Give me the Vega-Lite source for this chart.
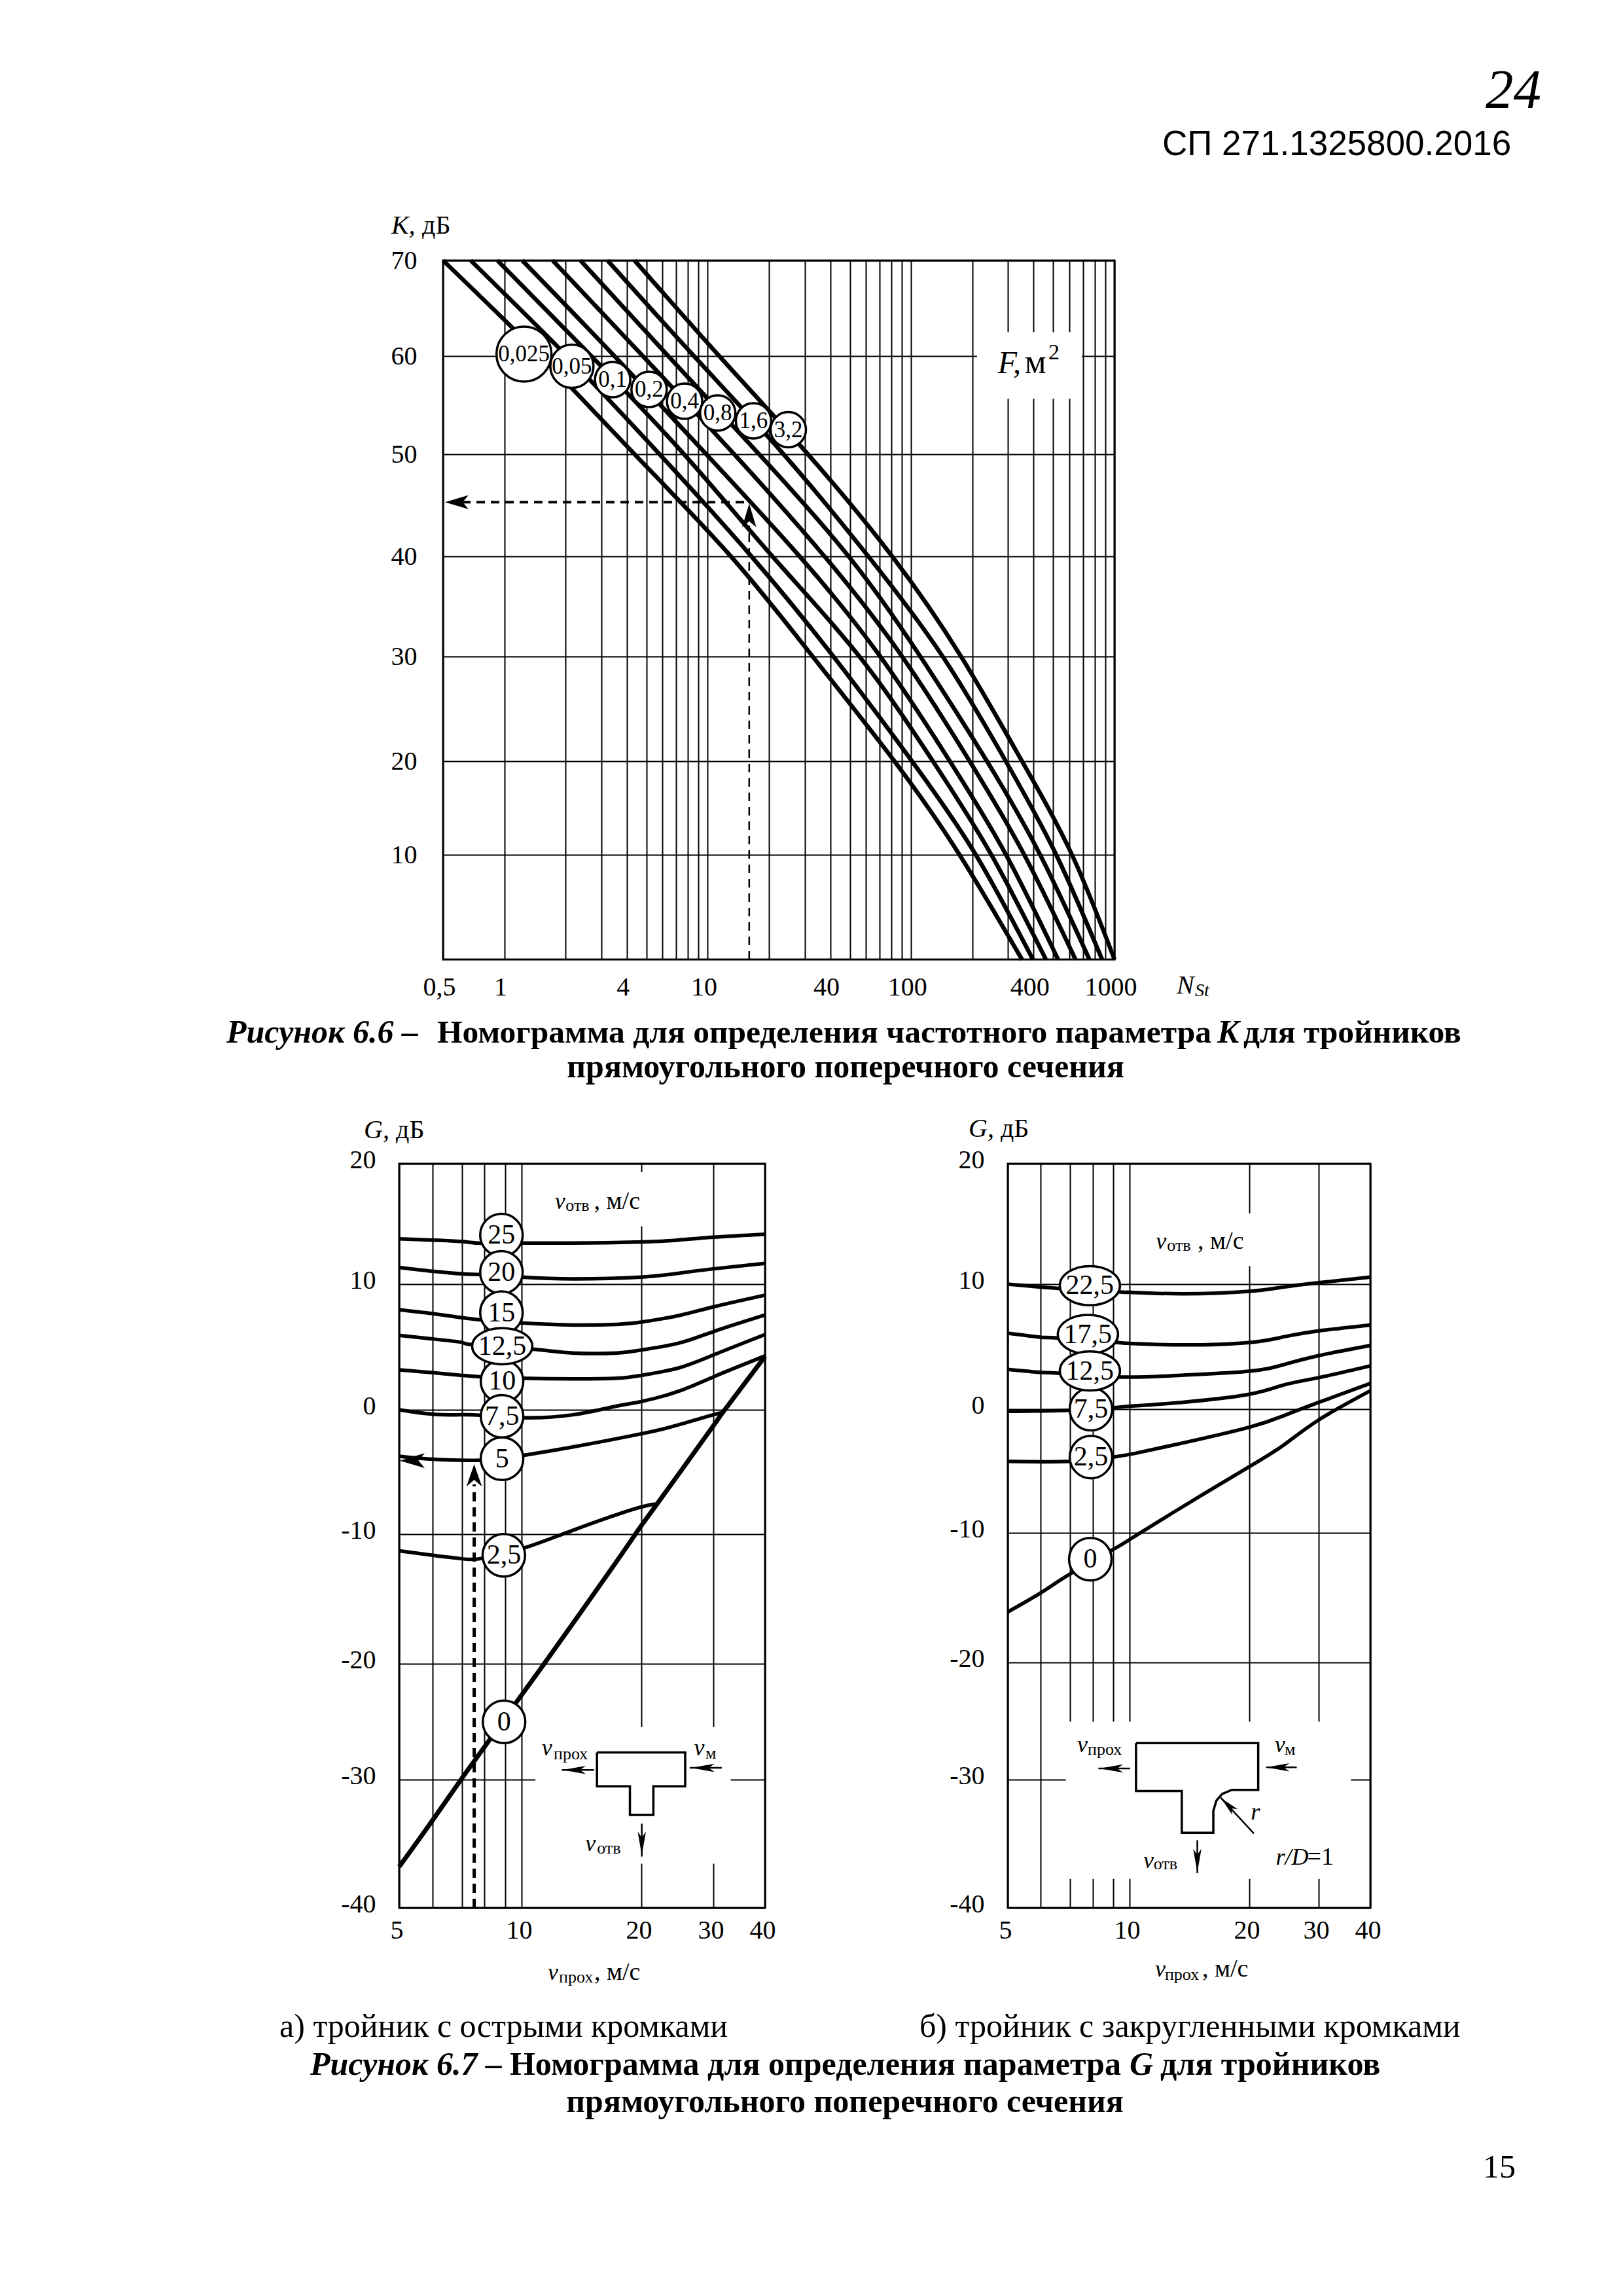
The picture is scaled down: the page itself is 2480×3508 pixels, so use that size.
{
"$schema":"https://vega.github.io/schema/vega-lite/v6.json",
"background":"white","padding":0,"spacing":0,
"config":{"view":{"stroke":null},"font":"Liberation Serif","text":{"font":"Liberation Serif","align":"left","baseline":"alphabetic","color":"black"},
"axis":{"domain":false,"ticks":false,"grid":true,"gridColor":"black","gridWidth":2,"gridOpacity":1,"labelColor":"black","labelFont":"Liberation Serif","labelFontSize":40,"labelOverlap":false,"labelBound":false,"labelFlush":false,"labelPadding":22,"title":null}},
"vconcat":[
{"width":2480,"height":376,
 "encoding":{"x":{"field":"x","type":"quantitative","axis":null,"scale":{"domain":[0,100]}},"y":{"field":"y","type":"quantitative","axis":null,"scale":{"domain":[0,10.718],"reverse":true}},"text":{"field":"label"}},
 "layer":[
 {"data":{"values":[{"x":71.61,"y":6.76,"label":"СП 271.1325800.2016"}]},"mark":{"type":"text","font":"Liberation Sans","fontSize":53}},
 {"data":{"values":[{"x":91.53,"y":4.7,"label":"24"}]},"mark":{"type":"text","fontStyle":"italic","fontSize":85}},
 {"data":{"values":[{"x":24.11,"y":10.18,"label":"K,"}]},"mark":{"type":"text","fontStyle":"italic","fontSize":40}},
 {"data":{"values":[{"x":26.01,"y":10.18,"label":"дБ"}]},"mark":{"type":"text","fontSize":40}}
 ]},
{"spacing":0,"bounds":"flush","hconcat":[
 {"width":677,"height":1138,"data":{"values":[{"a":1}]},"mark":{"type":"point","opacity":0},"encoding":{}},
 {"width":1026,"height":1068,"view":{"stroke":"black","strokeWidth":3},
 "encoding":{"x":{"field":"x","type":"quantitative","scale":{"type":"log","domain":[0.5,1000],"nice":false},"axis":{"values":[0.5,1,2,3,4,5,6,7,8,9,10,20,30,40,50,60,70,80,90,100,200,300,400,500,600,700,800,900,1000],"labelOffset":-6,"labelExpr":"indexof([0.5,1,4,10,40,100,400,1000],datum.value)>=0 ? replace(''+datum.value,'.',',') : ''"}},
 "y":{"field":"y","type":"quantitative","scale":{"domain":[0,10,20,30,40,50,60,70],"range":[1068,908,765,605,452,296,146,0]},"axis":{"values":[10,20,30,40,50,60,70],"labelPadding":40}}},
 "layer":[
 {"data":{"values":[{"x":211,"x2":690,"y":62.5,"y2":55.65}]},"mark":{"type":"rect","fill":"white"},"encoding":{"x2":{"field":"x2"},"y2":{"field":"y2"}}},
 {"data":{"values":[
 {"f":"0,025","x":0.5,"y":70},{"f":"0,025","x":1.51,"y":60},{"f":"0,025","x":4.37,"y":50},{"f":"0,025","x":13,"y":40},{"f":"0,025","x":32.8,"y":30},{"f":"0,025","x":82.8,"y":20},{"f":"0,025","x":173,"y":10},{"f":"0,025","x":351,"y":0},
 {"f":"0,05","x":0.684,"y":70},{"f":"0,05","x":2.03,"y":60},{"f":"0,05","x":5.8,"y":50},{"f":"0,05","x":16.4,"y":40},{"f":"0,05","x":41.5,"y":30},{"f":"0,05","x":101,"y":20},{"f":"0,05","x":208,"y":10},{"f":"0,05","x":397,"y":0},
 {"f":"0,1","x":0.926,"y":70},{"f":"0,1","x":2.68,"y":60},{"f":"0,1","x":7.65,"y":50},{"f":"0,1","x":20.8,"y":40},{"f":"0,1","x":55.7,"y":30},{"f":"0,1","x":128,"y":20},{"f":"0,1","x":248,"y":10},{"f":"0,1","x":460,"y":0},
 {"f":"0,2","x":1.227,"y":70},{"f":"0,2","x":3.48,"y":60},{"f":"0,2","x":9.84,"y":50},{"f":"0,2","x":28.3,"y":40},{"f":"0,2","x":70.5,"y":30},{"f":"0,2","x":155,"y":20},{"f":"0,2","x":293,"y":10},{"f":"0,2","x":528,"y":0},
 {"f":"0,4","x":1.73,"y":70},{"f":"0,4","x":4.8,"y":60},{"f":"0,4","x":13.5,"y":50},{"f":"0,4","x":37.5,"y":40},{"f":"0,4","x":90.3,"y":30},{"f":"0,4","x":194,"y":20},{"f":"0,4","x":360,"y":10},{"f":"0,4","x":643,"y":0},
 {"f":"0,8","x":2.37,"y":70},{"f":"0,8","x":6.4,"y":60},{"f":"0,8","x":17.9,"y":50},{"f":"0,8","x":49.3,"y":40},{"f":"0,8","x":111,"y":30},{"f":"0,8","x":236,"y":20},{"f":"0,8","x":431,"y":10},{"f":"0,8","x":753,"y":0},
 {"f":"1,6","x":3.22,"y":70},{"f":"1,6","x":8.56,"y":60},{"f":"1,6","x":23.6,"y":50},{"f":"1,6","x":61.6,"y":40},{"f":"1,6","x":143,"y":30},{"f":"1,6","x":292,"y":20},{"f":"1,6","x":517,"y":10},{"f":"1,6","x":869,"y":0},
 {"f":"3,2","x":4.37,"y":70},{"f":"3,2","x":11.4,"y":60},{"f":"3,2","x":31.1,"y":50},{"f":"3,2","x":80.7,"y":40},{"f":"3,2","x":176,"y":30},{"f":"3,2","x":351,"y":20},{"f":"3,2","x":618,"y":10},{"f":"3,2","x":1000,"y":0}
 ]},"mark":{"type":"line","color":"black","strokeWidth":6.5,"interpolate":"natural"},"encoding":{"detail":{"field":"f"}}},
 {"data":{"values":[{"x":0.62,"x2":16,"y":45.3,"y2":45.3}]},"mark":{"type":"rule","color":"black","strokeWidth":4,"strokeDash":[13,9]},"encoding":{"x2":{"field":"x2"},"y2":{"field":"y2"}}},
 {"data":{"values":[{"x":16,"x2":16,"y":0,"y2":43}]},"mark":{"type":"rule","color":"black","strokeWidth":2.5,"strokeDash":[13,9]},"encoding":{"x2":{"field":"x2"},"y2":{"field":"y2"}}},
 {"data":{"values":[{"x":0.584,"y":45.3}]},"mark":{"type":"point","filled":true,"color":"black","opacity":1,"size":1296,"shape":"M-1,0L1,-0.6L0.5,0L1,0.6Z"}},
 {"data":{"values":[{"x":16,"y":44}]},"mark":{"type":"point","filled":true,"color":"black","opacity":1,"size":1296,"shape":"M0,-1L-0.6,1L0,0.5L0.6,1Z"}},
 {"data":{"values":[{"x":1.25,"y":60.2}]},"mark":{"type":"point","filled":true,"fill":"white","stroke":"black","strokeWidth":3.5,"opacity":1,"size":7056,"shape":"circle"}},
 {"data":{"values":[{"x":2.15,"y":58.96}]},"mark":{"type":"point","filled":true,"fill":"white","stroke":"black","strokeWidth":3.5,"opacity":1,"size":4356,"shape":"circle"}},
 {"data":{"values":[{"x":3.41,"y":57.6},{"x":5.15,"y":56.6},{"x":7.7,"y":55.4},{"x":11.2,"y":54.2},{"x":16.8,"y":53.4},{"x":24.9,"y":52.5}]},"mark":{"type":"point","filled":true,"fill":"white","stroke":"black","strokeWidth":3.5,"opacity":1,"size":2916,"shape":"circle"}},
 {"data":{"values":[{"x":1.25,"y":60.2,"label":"0,025"},{"x":2.15,"y":58.96,"label":"0,05"},{"x":3.41,"y":57.6,"label":"0,1"},{"x":5.15,"y":56.6,"label":"0,2"},{"x":7.7,"y":55.4,"label":"0,4"},{"x":11.2,"y":54.2,"label":"0,8"},{"x":16.8,"y":53.4,"label":"1,6"},{"x":24.9,"y":52.5,"label":"3,2"}]},"mark":{"type":"text","align":"center","baseline":"middle","fontSize":35},"encoding":{"text":{"field":"label"}}},
 {"data":{"values":[{"x":267,"y":58.27,"label":"F,"}]},"mark":{"type":"text","fontStyle":"italic","fontSize":48},"encoding":{"text":{"field":"label"}}},
 {"data":{"values":[{"x":362,"y":58.27,"label":"м"}]},"mark":{"type":"text","fontSize":52},"encoding":{"text":{"field":"label"}}},
 {"data":{"values":[{"x":473,"y":59.67,"label":"2"}]},"mark":{"type":"text","fontSize":34},"encoding":{"text":{"field":"label"}}}
 ]},
 {"width":300,"height":1138,
 "encoding":{"x":{"field":"x","type":"quantitative","axis":null,"scale":{"domain":[68.67,80.77]}},"y":{"field":"y","type":"quantitative","axis":null,"scale":{"domain":[11.345,43.785],"reverse":true}},"text":{"field":"label"}},
 "layer":[
 {"data":{"values":[{"x":72.5,"y":43.27,"label":"N"}]},"mark":{"type":"text","fontStyle":"italic","fontSize":40}},
 {"data":{"values":[{"x":73.63,"y":43.39,"label":"St"}]},"mark":{"type":"text","fontStyle":"italic","fontSize":28}}
 ]}
]},
{"width":2480,"height":214,
 "encoding":{"x":{"field":"x","type":"quantitative","axis":null,"scale":{"domain":[0,100]}},"y":{"field":"y","type":"quantitative","axis":null,"scale":{"domain":[43.757,49.857],"reverse":true}},"text":{"field":"label"}},
 "layer":[
 {"data":{"values":[{"x":22.42,"y":49.54,"label":"G,"},{"x":59.68,"y":49.49,"label":"G,"}]},"mark":{"type":"text","fontStyle":"italic","fontSize":40}},
 {"data":{"values":[{"x":24.4,"y":49.54,"label":"дБ"},{"x":61.65,"y":49.49,"label":"дБ"}]},"mark":{"type":"text","fontSize":40}},
 {"data":{"values":[{"x":13.95,"y":45.38,"label":"Рисунок 6.6 –"},{"x":75,"y":45.38,"label":"K"}]},"mark":{"type":"text","fontStyle":"italic","fontWeight":"bold","fontSize":50}},
 {"data":{"values":[{"x":26.94,"y":45.38,"label":"Номограмма для определения частотного параметра"},{"x":76.61,"y":45.38,"label":"для тройников"}]},"mark":{"type":"text","fontWeight":"bold","fontSize":49.5}},
 {"data":{"values":[{"x":52.1,"y":46.89,"label":"прямоугольного поперечного сечения"}]},"mark":{"type":"text","align":"center","fontWeight":"bold","fontSize":50}}
 ]},
{"spacing":0,"bounds":"flush","hconcat":[
 {"width":610,"height":1207,"data":{"values":[{"a":1}]},"mark":{"type":"point","opacity":0},"encoding":{}},
 {"width":559,"height":1137,"view":{"stroke":"black","strokeWidth":3},
 "encoding":{"x":{"field":"x","type":"quantitative","scale":{"type":"log","domain":[5,6,7,8,9,10,20,30,40],"range":[0,51,96,130,162,187,370,480,559],"nice":false},"axis":{"values":[5,6,7,8,9,10,20,30,40],"labelOffset":-4,"labelPadding":14,"labelExpr":"indexof([5,10,20,30,40],datum.value)>=0 ? ''+datum.value : ''"}},
 "y":{"field":"y","type":"quantitative","scale":{"domain":[-40,-30,-20,-10,0,10,20],"range":[1137,941,764,566,376,184,0]},"axis":{"values":[-40,-30,-20,-10,0,10,20],"labelExpr":"''+datum.value","labelPadding":36,"labelOffset":-6}}},
 "layer":[
 {"data":{"values":[{"x":19.5,"x2":20.43,"y":19.3,"y2":14.8},{"x":10.83,"x2":33.06,"y":-25.47,"y2":-36.56}]},"mark":{"type":"rect","fill":"white"},"encoding":{"x2":{"field":"x2"},"y2":{"field":"y2"}}},
 {"data":{"values":[
 {"v":"25","x":5,"y":13.76},{"v":"25","x":6,"y":13.66},{"v":"25","x":7,"y":13.54},{"v":"25","x":7.9,"y":13.39},{"v":"25","x":10,"y":13.41},{"v":"25","x":13.46,"y":13.41},{"v":"25","x":20,"y":13.51},{"v":"25","x":24.6,"y":13.66},{"v":"25","x":30,"y":13.9},{"v":"25","x":40,"y":14.15},
 {"v":"20","x":5,"y":11.39},{"v":"20","x":6,"y":11.07},{"v":"20","x":7,"y":10.85},{"v":"20","x":7.9,"y":10.78},{"v":"20","x":10,"y":10.59},{"v":"20","x":13.46,"y":10.44},{"v":"20","x":20,"y":10.59},{"v":"20","x":24.6,"y":10.9},{"v":"20","x":30,"y":11.27},{"v":"20","x":40,"y":11.73},
 {"v":"15","x":5,"y":7.96},{"v":"15","x":6,"y":7.66},{"v":"15","x":7,"y":7.33},{"v":"15","x":7.9,"y":7.15},{"v":"15","x":10,"y":6.91},{"v":"15","x":13.46,"y":6.75},{"v":"15","x":17.37,"y":6.8},{"v":"15","x":20,"y":6.98},{"v":"15","x":24.6,"y":7.49},{"v":"15","x":30,"y":8.19},{"v":"15","x":40,"y":9.12},
 {"v":"12,5","x":5,"y":5.92},{"v":"12,5","x":6,"y":5.64},{"v":"12,5","x":7,"y":5.36},{"v":"12,5","x":7.5,"y":5.17},{"v":"12,5","x":10.6,"y":4.83},{"v":"12,5","x":13.46,"y":4.52},{"v":"12,5","x":17.37,"y":4.52},{"v":"12,5","x":20,"y":4.76},{"v":"12,5","x":24.6,"y":5.29},{"v":"12,5","x":30,"y":6.22},{"v":"12,5","x":40,"y":7.54},
 {"v":"10","x":5,"y":3.18},{"v":"10","x":6,"y":2.95},{"v":"10","x":7,"y":2.74},{"v":"10","x":7.9,"y":2.62},{"v":"10","x":10,"y":2.51},{"v":"10","x":13.46,"y":2.46},{"v":"10","x":17.37,"y":2.51},{"v":"10","x":20,"y":2.74},{"v":"10","x":24.6,"y":3.32},{"v":"10","x":30,"y":4.36},{"v":"10","x":40,"y":5.99},
 {"v":"7,5","x":5,"y":0},{"v":"7,5","x":6,"y":-0.35},{"v":"7,5","x":7,"y":-0.4},{"v":"7,5","x":7.9,"y":-0.45},{"v":"7,5","x":10,"y":-0.64},{"v":"7,5","x":13.46,"y":-0.4},{"v":"7,5","x":17.37,"y":0.3},{"v":"7,5","x":20,"y":0.66},{"v":"7,5","x":24.6,"y":1.46},{"v":"7,5","x":30,"y":2.62},{"v":"7,5","x":40,"y":4.29},
 {"v":"5","x":5,"y":-3.74},{"v":"5","x":6,"y":-3.98},{"v":"5","x":7.9,"y":-4.05},{"v":"5","x":10,"y":-3.69},{"v":"5","x":13.46,"y":-2.99},{"v":"5","x":20,"y":-1.93},{"v":"5","x":24.6,"y":-1.22},{"v":"5","x":30,"y":-0.4},{"v":"5","x":31.5,"y":-0.28},
 {"v":"2,5","x":5,"y":-11.29},{"v":"2,5","x":6,"y":-11.63},{"v":"2,5","x":7,"y":-11.9},{"v":"2,5","x":7.97,"y":-11.85},{"v":"2,5","x":10.17,"y":-11.06},{"v":"2,5","x":13.46,"y":-9.69},{"v":"2,5","x":18.87,"y":-8.05},{"v":"2,5","x":21.6,"y":-7.58}
 ]},"mark":{"type":"line","color":"black","strokeWidth":5.5,"interpolate":"natural"},"encoding":{"detail":{"field":"v"}}},
 {"data":{"values":[{"x":5,"y":-36.79},{"x":6,"y":-33.17},{"x":7,"y":-29.87},{"x":8.23,"y":-26.6},{"x":9.6,"y":-23.45},{"x":11.44,"y":-19.93},{"x":16.65,"y":-12.87},{"x":19.5,"y":-9.81},{"x":21.4,"y":-7.98},{"x":30,"y":-1.29},{"x":31.5,"y":-0.28},{"x":40,"y":4.25}]},"mark":{"type":"line","color":"black","strokeWidth":7,"interpolate":"natural"}},
 {"data":{"values":[{"x":7.53,"x2":7.53,"y":-40,"y2":-6}]},"mark":{"type":"rule","color":"black","strokeWidth":5,"strokeDash":[14,9]},"encoding":{"x2":{"field":"x2"},"y2":{"field":"y2"}}},
 {"data":{"values":[{"x":7.53,"y":-5.27}]},"mark":{"type":"point","filled":true,"color":"black","opacity":1,"size":1156,"shape":"M0,-1L-0.7,1L0,0.4L0.7,1Z"}},
 {"data":{"values":[{"x":5.37,"y":-4.09}]},"mark":{"type":"point","filled":true,"color":"black","opacity":1,"size":1444,"shape":"M-1,0L1,-0.6L0.5,0L1,0.6Z"}},
 {"data":{"values":[{"i":0,"x":15.47,"y":-27.66},{"i":1,"x":25.6,"y":-27.66},{"i":2,"x":25.6,"y":-30.52},{"i":3,"x":21.4,"y":-30.52},{"i":4,"x":21.4,"y":-32.76},{"i":5,"x":18.72,"y":-32.76},{"i":6,"x":18.72,"y":-30.52},{"i":7,"x":15.47,"y":-30.52},{"i":8,"x":15.47,"y":-27.66}]},"mark":{"type":"line","color":"black","strokeWidth":3.5},"encoding":{"order":{"field":"i"}}},
 {"data":{"values":[{"x":15.21,"x2":12.62,"y":-29.17,"y2":-29.17},{"x":31.44,"x2":26.26,"y":-28.99,"y2":-28.99},{"x":20.05,"x2":20.05,"y":-33.44,"y2":-36}]},"mark":{"type":"rule","color":"black","strokeWidth":2.5},"encoding":{"x2":{"field":"x2"},"y2":{"field":"y2"}}},
 {"data":{"values":[{"x":13.55,"y":-29.17},{"x":28.28,"y":-28.99}]},"mark":{"type":"point","filled":true,"color":"black","opacity":1,"size":1296,"shape":"M-1,0L1,-0.35L0.5,0L1,0.35Z"}},
 {"data":{"values":[{"x":20.05,"y":-34.98}]},"mark":{"type":"point","filled":true,"color":"black","opacity":1,"size":1296,"shape":"M0,1L-0.35,-1L0,-0.5L0.35,-1Z"}},
 {"data":{"values":[{"x":8.81,"y":14.07},{"x":8.81,"y":10.98},{"x":8.81,"y":7.73},{"x":8.84,"y":2.27},{"x":8.84,"y":-0.52},{"x":8.84,"y":-3.93},{"x":8.93,"y":-11.63},{"x":8.94,"y":-25.01}]},"mark":{"type":"point","filled":true,"fill":"white","stroke":"black","strokeWidth":3.5,"opacity":1,"size":4225,"shape":"circle"}},
 {"data":{"values":[{"x":8.85,"y":5.06}]},"mark":{"type":"point","filled":true,"fill":"white","stroke":"black","strokeWidth":3.5,"opacity":1,"size":8464,"shape":"M-1,0A1,0.6 0 1,1 1,0A1,0.6 0 1,1 -1,0Z"}},
 {"data":{"values":[{"x":8.81,"y":14.07,"label":"25"},{"x":8.81,"y":10.98,"label":"20"},{"x":8.81,"y":7.73,"label":"15"},{"x":8.85,"y":5.06,"label":"12,5"},{"x":8.84,"y":2.27,"label":"10"},{"x":8.84,"y":-0.52,"label":"7,5"},{"x":8.84,"y":-3.93,"label":"5"},{"x":8.93,"y":-11.63,"label":"2,5"},{"x":8.94,"y":-25.01,"label":"0"}]},"mark":{"type":"text","align":"center","baseline":"middle","fontSize":42},"encoding":{"text":{"field":"label"}}},
 {"data":{"values":[{"x":12.12,"y":16.27,"label":"v"},{"x":11.24,"y":-27.93,"label":"v"},{"x":26.9,"y":-27.93,"label":"v"},{"x":14.46,"y":-35.54,"label":"v"}]},"mark":{"type":"text","fontStyle":"italic","fontSize":36},"encoding":{"text":{"field":"label"}}},
 {"data":{"values":[{"x":12.9,"y":16.07,"label":"отв"},{"x":12.04,"y":-28.24,"label":"прох"},{"x":28.7,"y":-28.19,"label":"м"},{"x":15.47,"y":-35.77,"label":"отв"}]},"mark":{"type":"text","fontSize":26},"encoding":{"text":{"field":"label"}}},
 {"data":{"values":[{"x":15.2,"y":16.27,"label":", м/с"}]},"mark":{"type":"text","fontSize":38},"encoding":{"text":{"field":"label"}}}
 ]},
 {"width":371,"height":1207,"data":{"values":[{"a":1}]},"mark":{"type":"point","opacity":0},"encoding":{}},
 {"width":554,"height":1137,"view":{"stroke":"black","strokeWidth":3},
 "encoding":{"x":{"field":"x","type":"quantitative","scale":{"type":"log","domain":[5,6,7,8,9,10,20,30,40],"range":[0,50,95,130,161,186,369,475,554],"nice":false},"axis":{"values":[5,6,7,8,9,10,20,30,40],"labelOffset":-4,"labelPadding":14,"labelExpr":"indexof([5,10,20,30,40],datum.value)>=0 ? ''+datum.value : ''"}},
 "y":{"field":"y","type":"quantitative","scale":{"domain":[-40,-30,-20,-10,0,10,20],"range":[1137,941,762,564,375,184,0]},"axis":{"values":[-40,-30,-20,-10,0,10,20],"labelExpr":"''+datum.value","labelPadding":36,"labelOffset":-6}}},
 "layer":[
 {"data":{"values":[{"x":19.6,"x2":20.45,"y":15.87,"y2":11.5},{"x":6.85,"x2":35.9,"y":-25.05,"y2":-37.74}]},"mark":{"type":"rect","fill":"white"},"encoding":{"x2":{"field":"x2"},"y2":{"field":"y2"}}},
 {"data":{"values":[
 {"v":"22,5","x":5,"y":10},{"v":"22,5","x":6,"y":9.77},{"v":"22,5","x":6.64,"y":9.65},{"v":"22,5","x":9.42,"y":9.37},{"v":"22,5","x":10,"y":9.35},{"v":"22,5","x":13.5,"y":9.23},{"v":"22,5","x":20,"y":9.42},{"v":"22,5","x":24.5,"y":9.77},{"v":"22,5","x":30,"y":10.12},{"v":"22,5","x":40,"y":10.58},
 {"v":"17,5","x":5,"y":6.07},{"v":"17,5","x":6,"y":5.75},{"v":"17,5","x":6.6,"y":5.68},{"v":"17,5","x":9.25,"y":5.33},{"v":"17,5","x":10,"y":5.26},{"v":"17,5","x":13.5,"y":5.14},{"v":"17,5","x":20,"y":5.33},{"v":"17,5","x":24.5,"y":5.79},{"v":"17,5","x":30,"y":6.26},{"v":"17,5","x":40,"y":6.73},
 {"v":"12,5","x":5,"y":3.18},{"v":"12,5","x":6,"y":2.94},{"v":"12,5","x":6.64,"y":2.87},{"v":"12,5","x":9.42,"y":2.57},{"v":"12,5","x":13.5,"y":2.71},{"v":"12,5","x":20,"y":3.04},{"v":"12,5","x":24.5,"y":3.57},{"v":"12,5","x":30,"y":4.28},{"v":"12,5","x":40,"y":5.09},
 {"v":"7,5","x":5,"y":-0.17},{"v":"7,5","x":7,"y":-0.09},{"v":"7,5","x":9,"y":0.12},{"v":"7,5","x":10,"y":0.23},{"v":"7,5","x":13.5,"y":0.54},{"v":"7,5","x":20,"y":1.19},{"v":"7,5","x":24.5,"y":1.94},{"v":"7,5","x":30,"y":2.52},{"v":"7,5","x":40,"y":3.46},
 {"v":"2,5","x":5,"y":-4.22},{"v":"2,5","x":7,"y":-4.22},{"v":"2,5","x":9,"y":-3.87},{"v":"2,5","x":10.31,"y":-3.58},{"v":"2,5","x":13.5,"y":-2.76},{"v":"2,5","x":20,"y":-1.46},{"v":"2,5","x":24.5,"y":-0.52},{"v":"2,5","x":30,"y":0.54},{"v":"2,5","x":40,"y":2.06},
 {"v":"0","x":5,"y":-16.1},{"v":"0","x":6,"y":-14.64},{"v":"0","x":7,"y":-13.18},{"v":"0","x":8.96,"y":-11.31},{"v":"0","x":10,"y":-10.52},{"v":"0","x":13.5,"y":-7.95},{"v":"0","x":20,"y":-4.65},{"v":"0","x":24.5,"y":-2.88},{"v":"0","x":30,"y":-0.87},{"v":"0","x":40,"y":1.47}
 ]},"mark":{"type":"line","color":"black","strokeWidth":5.5,"interpolate":"natural"},"encoding":{"detail":{"field":"v"}}},
 {"data":{"values":[{"i":0,"x":10.38,"y":-26.88},{"i":1,"x":21.07,"y":-26.88},{"i":2,"x":21.07,"y":-30.8},{"i":3,"x":18.07,"y":-30.8},{"i":4,"x":17.09,"y":-31.12},{"i":5,"x":16.53,"y":-31.64},{"i":6,"x":16.24,"y":-32.44},{"i":7,"x":16.24,"y":-34.15},{"i":8,"x":13.53,"y":-34.15},{"i":9,"x":13.53,"y":-30.89},{"i":10,"x":10.38,"y":-30.89},{"i":11,"x":10.38,"y":-26.88}]},"mark":{"type":"line","color":"black","strokeWidth":3.5},"encoding":{"order":{"field":"i"}}},
 {"data":{"values":[{"x":10.04,"x2":8.26,"y":-29.05,"y2":-29.05},{"x":26.4,"x2":22.07,"y":-28.95,"y2":-28.95},{"x":14.8,"x2":14.8,"y":-34.72,"y2":-37.29},{"x":20.54,"x2":16.95,"y":-34.2,"y2":-31.41}]},"mark":{"type":"rule","color":"black","strokeWidth":2.5},"encoding":{"x2":{"field":"x2"},"y2":{"field":"y2"}}},
 {"data":{"values":[{"x":8.9,"y":-29.05},{"x":23.6,"y":-28.95}]},"mark":{"type":"point","filled":true,"color":"black","opacity":1,"size":1296,"shape":"M-1,0L1,-0.35L0.5,0L1,0.35Z"}},
 {"data":{"values":[{"x":14.8,"y":-36.31}]},"mark":{"type":"point","filled":true,"color":"black","opacity":1,"size":1296,"shape":"M0,1L-0.35,-1L0,-0.5L0.35,-1Z"}},
 {"data":{"values":[{"x":17.68,"y":-31.98}]},"mark":{"type":"point","filled":true,"color":"black","opacity":1,"size":900,"angle":-45,"shape":"M0,-1L-0.4,1L0,0.5L0.4,1Z"}},
 {"data":{"values":[{"x":7.91,"y":0},{"x":7.91,"y":-3.87},{"x":7.88,"y":-12.03}]},"mark":{"type":"point","filled":true,"fill":"white","stroke":"black","strokeWidth":3.5,"opacity":1,"size":4225,"shape":"circle"}},
 {"data":{"values":[{"x":7.86,"y":9.88},{"x":7.77,"y":5.98},{"x":7.86,"y":3.06}]},"mark":{"type":"point","filled":true,"fill":"white","stroke":"black","strokeWidth":3.5,"opacity":1,"size":8464,"shape":"M-1,0A1,0.65 0 1,1 1,0A1,0.65 0 1,1 -1,0Z"}},
 {"data":{"values":[{"x":7.86,"y":9.88,"label":"22,5"},{"x":7.77,"y":5.98,"label":"17,5"},{"x":7.86,"y":3.06,"label":"12,5"},{"x":7.91,"y":0,"label":"7,5"},{"x":7.91,"y":-3.87,"label":"2,5"},{"x":7.88,"y":-12.03,"label":"0"}]},"mark":{"type":"text","align":"center","baseline":"middle","fontSize":42},"encoding":{"text":{"field":"label"}}},
 {"data":{"values":[{"x":11.65,"y":12.91,"label":"v"},{"x":7.3,"y":-27.68,"label":"v"},{"x":23.2,"y":-27.68,"label":"v"},{"x":10.83,"y":-36.88,"label":"v"},{"x":20.17,"y":-33.12,"label":"r"},{"x":23.35,"y":-36.65,"label":"r/D"}]},"mark":{"type":"text","fontStyle":"italic","fontSize":36},"encoding":{"text":{"field":"label"}}},
 {"data":{"values":[{"x":12.42,"y":12.79,"label":"отв"},{"x":7.76,"y":-27.85,"label":"прох"},{"x":24.6,"y":-27.85,"label":"м"},{"x":11.49,"y":-37,"label":"отв"}]},"mark":{"type":"text","fontSize":26},"encoding":{"text":{"field":"label"}}},
 {"data":{"values":[{"x":14.83,"y":12.91,"label":", м/с"},{"x":28.06,"y":-36.65,"label":"=1"}]},"mark":{"type":"text","fontSize":38},"encoding":{"text":{"field":"label"}}}
 ]}
]},
{"width":2480,"height":525,
 "encoding":{"x":{"field":"x","type":"quantitative","axis":null,"scale":{"domain":[0,100]}},"y":{"field":"y","type":"quantitative","axis":null,"scale":{"domain":[85.04,100],"reverse":true}},"text":{"field":"label"}},
 "layer":[
 {"data":{"values":[{"x":33.75,"y":86.17,"label":"v"},{"x":71.17,"y":86.03,"label":"v"}]},"mark":{"type":"text","fontStyle":"italic","fontSize":36}},
 {"data":{"values":[{"x":34.44,"y":86.29,"label":"прох"},{"x":71.77,"y":86.18,"label":"прох"}]},"mark":{"type":"text","fontSize":26}},
 {"data":{"values":[{"x":36.61,"y":86.17,"label":", м/с"},{"x":74.07,"y":86.03,"label":", м/с"}]},"mark":{"type":"text","fontSize":38}},
 {"data":{"values":[{"x":17.22,"y":88.65,"label":"а) тройник с острыми кромками"},{"x":56.65,"y":88.65,"label":"б) тройник с закругленными кромками"},{"x":91.37,"y":94.78,"label":"15"}]},"mark":{"type":"text","fontSize":50}},
 {"data":{"values":[{"x":19.11,"y":90.31,"label":"Рисунок 6.7 –"},{"x":69.6,"y":90.31,"label":"G"}]},"mark":{"type":"text","fontStyle":"italic","fontWeight":"bold","fontSize":50}},
 {"data":{"values":[{"x":31.41,"y":90.31,"label":"Номограмма для определения параметра"},{"x":71.49,"y":90.31,"label":"для тройников"}]},"mark":{"type":"text","fontWeight":"bold","fontSize":50}},
 {"data":{"values":[{"x":52.06,"y":91.93,"label":"прямоугольного поперечного сечения"}]},"mark":{"type":"text","align":"center","fontWeight":"bold","fontSize":50}}
 ]}
]}
